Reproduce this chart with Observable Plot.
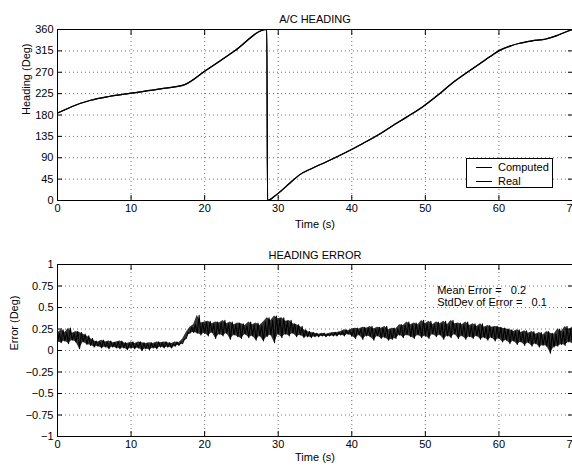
<!DOCTYPE html>
<html><head><meta charset="utf-8">
<script src="https://cdn.jsdelivr.net/npm/d3@7"></script>
<script src="https://cdn.jsdelivr.net/npm/@observablehq/plot@0.6"></script>
<style>
body{margin:0;background:#fff;}
#wrap{position:relative;width:572px;height:468px;overflow:hidden;font-family:"Liberation Sans",Arial,Helvetica,sans-serif;color:#000;}
#wrap svg{display:block;}
.legend{position:absolute;left:466px;top:158px;width:87px;height:30px;border:1px solid #000;background:#fff;font-size:11px;box-sizing:border-box;padding-top:1px;}
.legend .row{height:14px;display:flex;align-items:center;}
.legend .sw{display:inline-block;width:16px;height:0;border-top:1px solid #000;margin:0 6px 0 9px;}
</style>
</head><body>
<div id="wrap"><div id="top"></div><div id="bot"></div></div>
<script>
// ---- data ----
const xTicks = [0, 10, 20, 30, 40, 50, 60, 70];
const headingTicks = [0, 45, 90, 135, 180, 225, 270, 315, 360];
const errorTicks = [-1, -0.75, -0.5, -0.25, 0, 0.25, 0.5, 0.75, 1];
const seriesNames = ["Computed", "Real"];

const headingT = [0, 2, 4.5, 7, 10, 14, 17.3, 20.1, 24, 28.45, 28.55, 29.5, 30.3, 31.6, 33, 34.5, 36.5, 39.3, 41.5, 43.8, 45.5, 47.4, 49.7, 51.8, 53.8, 55.6, 57.4, 58.8, 60.1, 61.5, 62.8, 64.5, 66.4, 68, 69.6, 70];
const headingComputed = [184, 198, 211, 219, 226, 235, 244, 273, 314, 360, 0, 9, 19, 37, 55, 67, 81, 102, 120, 140, 157, 175, 198, 223, 249, 269, 288, 303, 316, 325, 331, 336, 340, 348, 358, 360];
const headingReal = [184, 198, 211, 219, 226, 235, 244, 273, 314, 360, 0, 9, 19, 37, 55, 67, 81, 102, 120, 140, 157, 175, 198, 223, 249, 269, 288, 303, 316, 325, 331, 336, 340, 348, 358, 360];

const errT = d3.range(0, 70.01, 0.5);
const errLo = [0.10,0.09,0.11,0.08,0.12,0.10,0.02,0.10,0.07,0.06,0.04,0.05,0.03,0.04,0.02,0.04,0.03,0.02,0.03,0.01,
  0.03,0.02,0.03,0.00,0.02,0.01,0.03,0.02,0.04,0.03,0.04,0.03,0.05,0.06,0.08,0.14,0.20,0.21,0.20,0.18,
  0.20,0.17,0.21,0.14,0.19,0.17,0.20,0.13,0.18,0.16,0.14,0.19,0.15,0.17,0.12,0.17,0.11,0.16,0.18,0.09,
  0.19,0.15,0.19,0.17,0.20,0.16,0.18,0.15,0.16,0.15,0.16,0.16,0.17,0.16,0.17,0.17,0.17,0.18,0.17,0.19,
  0.17,0.14,0.18,0.13,0.17,0.16,0.12,0.17,0.14,0.15,0.12,0.13,0.14,0.18,0.15,0.18,0.16,0.14,0.18,0.15,
  0.17,0.14,0.19,0.16,0.18,0.13,0.17,0.15,0.19,0.14,0.17,0.13,0.16,0.14,0.17,0.13,0.15,0.12,0.15,0.11,
  0.14,0.10,0.12,0.08,0.11,0.07,0.10,0.06,0.09,0.05,0.08,0.04,0.06,0.05,-0.03,0.04,0.05,0.07,0.06,0.10,0.08];
const errHi = [0.20,0.24,0.21,0.26,0.20,0.22,0.21,0.19,0.17,0.14,0.11,0.10,0.12,0.10,0.11,0.09,0.10,0.11,0.09,0.08,
  0.10,0.08,0.10,0.09,0.08,0.09,0.08,0.10,0.09,0.10,0.09,0.08,0.10,0.09,0.13,0.21,0.27,0.30,0.41,0.32,
  0.33,0.34,0.31,0.33,0.32,0.35,0.31,0.33,0.30,0.32,0.31,0.29,0.33,0.30,0.32,0.29,0.33,0.38,0.35,0.40,
  0.37,0.38,0.34,0.35,0.31,0.30,0.28,0.24,0.22,0.21,0.20,0.19,0.20,0.19,0.20,0.21,0.21,0.22,0.24,0.23,
  0.25,0.26,0.25,0.27,0.26,0.28,0.25,0.27,0.26,0.28,0.24,0.26,0.25,0.30,0.29,0.33,0.30,0.32,0.30,0.35,
  0.31,0.34,0.30,0.33,0.31,0.34,0.30,0.35,0.31,0.32,0.30,0.33,0.29,0.31,0.28,0.31,0.27,0.29,0.27,0.28,
  0.27,0.26,0.25,0.24,0.22,0.24,0.21,0.23,0.20,0.22,0.19,0.21,0.18,0.22,0.20,0.19,0.25,0.22,0.28,0.24,0.27];

const meanError = 0.2;
const stdError = 0.1;

// ---- tables ----
const headingRows = headingT.map((t, i) => ({t, computed: headingComputed[i], real: headingReal[i]}));
const errRows = errT.map((t, i) => ({t, lo: errLo[i], hi: errHi[i]}));
// trace the noisy error signal by alternating its read low and high excursions
const errTrace = errT.flatMap((t, i) => [{t, e: errLo[i]}, {t: t + 0.25, e: errHi[i]}]).filter(d => d.t <= 70);

const font = '"Liberation Sans", Arial, Helvetica, sans-serif';
const grid = {stroke: "#000", strokeOpacity: 0.55, strokeDasharray: "1,3"};
const blank = () => "";
const numFmt = d => String(d).replace("-", "\u2212");

function panel({title, ylabel, yDomain, yTicks, marks, marginTop, marginBottom, ylabelDx, titleDy, xlabelDy}) {
  return Plot.plot({
    width: 572, height: 234,
    marginLeft: 57, marginRight: 0, marginTop, marginBottom,
    style: {fontFamily: font, fontSize: "11px", color: "#000", background: "#fff", overflow: "visible"},
    x: {domain: [0, 70]},
    y: {domain: yDomain},
    marks: [
      Plot.gridX(xTicks, grid),
      Plot.gridY(yTicks, grid),
      ...marks,
      Plot.frame({stroke: "#000", strokeWidth: 1}),
      Plot.axisX(xTicks, {anchor: "bottom", tickSize: -5, tickPadding: 9, label: null, tickFormat: numFmt}),
      Plot.axisX(xTicks, {anchor: "top", tickSize: -5, tickFormat: blank, label: null}),
      Plot.axisY(yTicks, {anchor: "left", tickSize: -5, tickPadding: 9, label: null, tickFormat: numFmt}),
      Plot.axisY(yTicks, {anchor: "right", tickSize: -5, tickFormat: blank, label: null}),
      Plot.text([title], {text: d => d, frameAnchor: "top", dy: titleDy}),
      Plot.text(["Time (s)"], {text: d => d, frameAnchor: "bottom", dy: xlabelDy}),
      Plot.text([ylabel], {text: d => d, frameAnchor: "left", dx: ylabelDx, rotate: -90})
    ]
  });
}

const topPlot = panel({
  title: "A/C HEADING", ylabel: "Heading (Deg)",
  yDomain: [0, 360], yTicks: headingTicks,
  marginTop: 29, marginBottom: 34, ylabelDx: -31, titleDy: -14, xlabelDy: 27,
  marks: [
    Plot.line(headingRows, {x: "t", y: "real", stroke: "#000", strokeWidth: 1.2, curve: "monotone-x"}),
    Plot.line(headingRows, {x: "t", y: "computed", stroke: "#000", strokeWidth: 1.2, curve: "monotone-x"})
  ]
});

const botPlot = panel({
  title: "HEADING ERROR", ylabel: "Error (Deg)",
  yDomain: [-1, 1], yTicks: errorTicks,
  marginTop: 30, marginBottom: 32, ylabelDx: -43, titleDy: -13, xlabelDy: 24,
  marks: [
    Plot.areaY(errRows, {x: "t", y1: "lo", y2: "hi", fill: "#000", fillOpacity: 0.8}),
    Plot.line(errTrace, {x: "t", y: "e", stroke: "#000", strokeWidth: 1.1}),
    Plot.text([`Mean Error =   ${meanError.toFixed(1)}`], {text: d => d, x: 51.6, y: 0.70, textAnchor: "start"}),
    Plot.text([`StdDev of Error =   ${stdError.toFixed(1)}`], {text: d => d, x: 51.6, y: 0.56, textAnchor: "start"})
  ]
});

document.getElementById("top").appendChild(topPlot);
document.getElementById("bot").appendChild(botPlot);

// legend
const leg = document.createElement("div");
leg.className = "legend";
for (const name of seriesNames) {
  const row = document.createElement("div");
  row.className = "row";
  const sw = document.createElement("span");
  sw.className = "sw";
  row.appendChild(sw);
  row.appendChild(document.createTextNode(name));
  leg.appendChild(row);
}
document.getElementById("wrap").appendChild(leg);
</script>
</body></html>
